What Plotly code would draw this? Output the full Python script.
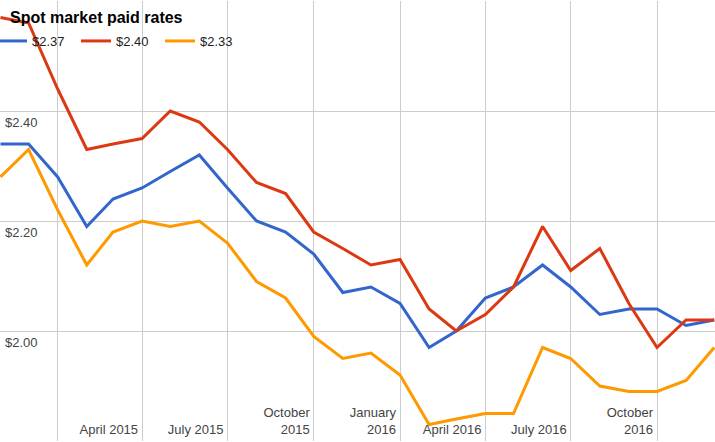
import plotly.graph_objects as go

# monthly points, Nov 2014 - Dec 2016
months = ["2014-11-01", "2014-12-01",
          "2015-01-01", "2015-02-01", "2015-03-01", "2015-04-01", "2015-05-01", "2015-06-01",
          "2015-07-01", "2015-08-01", "2015-09-01", "2015-10-01", "2015-11-01", "2015-12-01",
          "2016-01-01", "2016-02-01", "2016-03-01", "2016-04-01", "2016-05-01", "2016-06-01",
          "2016-07-01", "2016-08-01", "2016-09-01", "2016-10-01", "2016-11-01", "2016-12-01"]

rate_blue = [2.34, 2.34, 2.28, 2.19, 2.24, 2.26, 2.29, 2.32, 2.26, 2.20, 2.18, 2.14, 2.07,
             2.08, 2.05, 1.97, 2.00, 2.06, 2.08, 2.12, 2.08, 2.03, 2.04, 2.04, 2.01, 2.02]
rate_red = [2.57, 2.56, 2.44, 2.33, 2.34, 2.35, 2.40, 2.38, 2.33, 2.27, 2.25, 2.18, 2.15,
            2.12, 2.13, 2.04, 2.00, 2.03, 2.08, 2.19, 2.11, 2.15, 2.05, 1.97, 2.02, 2.02]
rate_orange = [2.28, 2.33, 2.22, 2.12, 2.18, 2.20, 2.19, 2.20, 2.16, 2.09, 2.06, 1.99, 1.95,
               1.96, 1.92, 1.83, 1.84, 1.85, 1.85, 1.97, 1.95, 1.90, 1.89, 1.89, 1.91, 1.97]

names = ["$2.37", "$2.40", "$2.33"]
colors = ["#3366cc", "#dc3912", "#ff9900"]

tick_dates = ["2015-01-01", "2015-04-01", "2015-07-01", "2015-10-01",
              "2016-01-01", "2016-04-01", "2016-07-01", "2016-10-01"]
tick_labels = ["", "April 2015", "July 2015", "October<br>2015",
               "January<br>2016", "April 2016", "July 2016", "October<br>2016"]

y_ticks = [1.8, 2.0, 2.2, 2.4, 2.6]
y_labels = ["", "$2.00", "$2.20", "$2.40", ""]

fig = go.Figure()
for name, vals, col in zip(names, [rate_blue, rate_red, rate_orange], colors):
    fig.add_trace(go.Scatter(x=months, y=vals, name=name, mode="lines",
                             line=dict(color=col, width=3)))

fig.update_layout(
    width=715, height=442,
    margin=dict(l=0, r=0, t=1, b=1, autoexpand=False),
    paper_bgcolor="white", plot_bgcolor="white",
    font=dict(family="Arial, Liberation Sans, sans-serif", size=13, color="#444"),
    showlegend=True,
    legend=dict(orientation="h", x=-8/715, xanchor="left", y=1 - 40/440, yanchor="middle",
                itemwidth=30, entrywidth=39, font=dict(size=13, color="#222"),
                bgcolor="rgba(0,0,0,0)"),
    annotations=[dict(text="<b>Spot market paid rates</b>", xref="paper", yref="paper",
                      x=8/715, y=1 - 17/440, xanchor="left", yanchor="middle",
                      showarrow=False, font=dict(size=16, color="black"))],
)

fig.update_xaxes(type="date", range=["2014-10-31 12:00", "2016-12-01 20:00"],
                 tickvals=tick_dates, ticktext=tick_labels,
                 ticklabelposition="inside left", ticks="",
                 ticklabelstandoff=-2, ticklabelshift=-4,
                 showgrid=True, gridcolor="#cccccc", gridwidth=1,
                 showline=False, zeroline=False, tickfont=dict(size=13, color="#444"))
fig.update_yaxes(range=[1.8, 2.6], tickvals=y_ticks, ticktext=y_labels,
                 ticklabelposition="inside", ticks="", ticklabelshift=11, ticklabelstandoff=2,
                 showgrid=True, gridcolor="#cccccc", gridwidth=1,
                 showline=False, zeroline=False, tickfont=dict(size=13, color="#444"))

# page body has a default 8px margin; drop it so the figure sits at the corner
fig.write_html("out.html", config={"displayModeBar": False},
               post_script="document.body.style.margin='0';document.body.style.overflow='hidden';")
